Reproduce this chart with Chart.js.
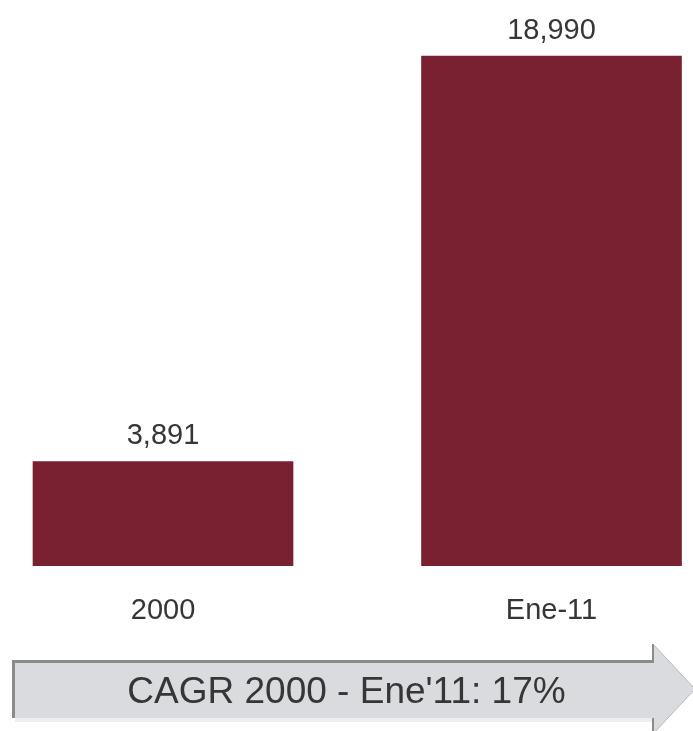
<!DOCTYPE html>
<html>
<head>
<meta charset="utf-8">
<script src="https://cdn.jsdelivr.net/npm/chart.js@4/dist/chart.umd.min.js"></script>
<style>
    html, body { margin: 0; padding: 0; background: #fff; }
    .wrap { position: relative; width: 693px; height: 731px; }
</style>
</head>
<body>
<div class="wrap"><canvas id="c"></canvas></div>
<script>
const categories = ['2000', 'Ene-11'];
const values = [3891, 18990];
const cagrText = "CAGR 2000 - Ene'11: 17%";

const barColor = '#7a2131';
const textColor = '#363636';
const font = 'Arial, "Liberation Sans", Helvetica, sans-serif';

// grey arrow behind the title text
const arrowPlugin = {
    id: 'arrow',
    beforeDraw(chart) {
        const ctx = chart.ctx;
        ctx.save();
        // soft shadow
        ctx.fillStyle = '#eceef0';
        ctx.fillRect(15, 718, 640, 4);
        ctx.beginPath();
        ctx.moveTo(12, 660);
        ctx.lineTo(653, 660);
        ctx.lineTo(653, 644);
        ctx.lineTo(695, 689);
        ctx.lineTo(653, 734);
        ctx.lineTo(653, 718);
        ctx.lineTo(12, 718);
        ctx.closePath();
        ctx.fillStyle = '#dadbdf';
        ctx.fill();
        ctx.strokeStyle = '#b9babd';
        ctx.lineWidth = 1;
        ctx.beginPath();
        ctx.moveTo(653, 644);
        ctx.lineTo(695, 689);
        ctx.lineTo(653, 734);
        ctx.stroke();
        ctx.fillStyle = '#8b8b8b';
        ctx.fillRect(12, 660, 641, 3);
        ctx.fillRect(12, 660, 3, 58);
        ctx.fillRect(652, 644, 2, 19);
        ctx.fillRect(652, 718, 2, 16);
        ctx.restore();
    }
};

const valueLabels = {
    id: 'valueLabels',
    afterDatasetsDraw(chart) {
        const ctx = chart.ctx;
        ctx.save();
        ctx.font = '29px ' + font;
        ctx.fillStyle = textColor;
        ctx.textAlign = 'center';
        ctx.textBaseline = 'alphabetic';
        chart.getDatasetMeta(0).data.forEach((bar, i) => {
            ctx.fillText(values[i].toLocaleString('en-US'), bar.x, bar.y - 17);
        });
        ctx.restore();
    }
};

new Chart(document.getElementById('c'), {
    type: 'bar',
    data: {
        datasets: [{
            data: values.map((v, i) => ({ x: i, y: v })),
            backgroundColor: barColor,
            borderWidth: 0,
            barThickness: 260,
        }],
    },
    options: {
        responsive: true,
        maintainAspectRatio: false,
        animation: false,
        layout: { padding: { top: 2, left: 0, right: 0, bottom: 0 } },
        plugins: {
            legend: { display: false },
            tooltip: { enabled: false },
            title: {
                display: true,
                position: 'bottom',
                text: cagrText,
                color: textColor,
                font: { size: 37, family: font, weight: 'normal', lineHeight: 1.2 },
                padding: { top: 24.8, bottom: 15.8 },
            },
        },
        scales: {
            x: {
                type: 'linear',
                offset: false,
                min: -0.4196,
                max: 1.3642,
                grid: { display: false, drawTicks: false },
                border: { display: false },
                afterBuildTicks: (scale) => {
                    scale.ticks = categories.map((_, i) => ({ value: i }));
                },
                afterFit: (scale) => { scale.height = 80; },
                ticks: {
                    color: textColor,
                    padding: 28,
                    font: { size: 29, family: font },
                    maxRotation: 0,
                    autoSkip: false,
                    callback: (v) => categories[v] ?? '',
                },
            },
            y: {
                display: false,
                min: 0,
                max: 21000,
            },
        },
    },
    plugins: [arrowPlugin, valueLabels],
});
</script>
</body>
</html>
